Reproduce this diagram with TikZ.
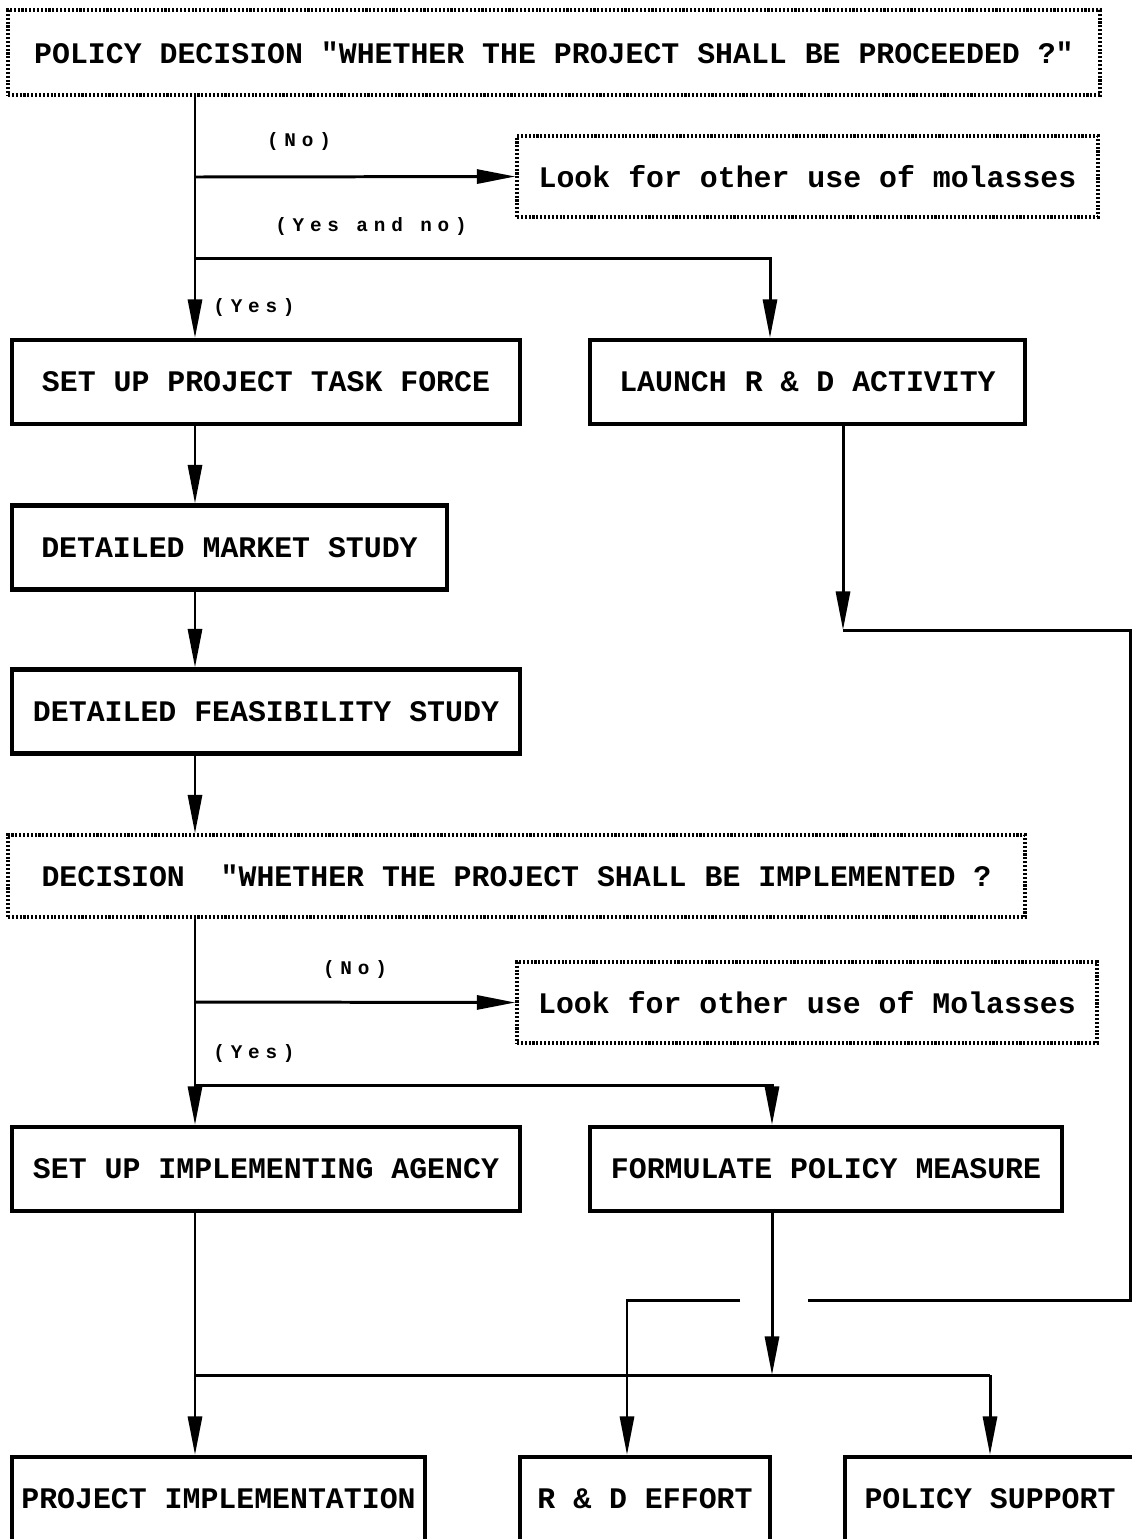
\documentclass[tikz,border=0pt]{standalone}
\usepackage{fontspec}
\setmonofont{Liberation Mono}
\newfontfamily\tagfont[LetterSpace=30]{Liberation Mono}
\usetikzlibrary{arrows.meta}
\tikzstyle{stage}=[rectangle,draw,line width=2.3pt,inner sep=0pt,font=\ttfamily\bfseries\fontsize{17}{20}\selectfont]
\tikzstyle{query}=[stage,dash pattern=on 1.2pt off 1pt,line width=1.8pt]
\tikzstyle{link}=[line width=1.7pt]
\tikzstyle{flow}=[link,-{Triangle[length=22pt,width=8pt]}]
\tikzstyle{tag}=[inner sep=0pt,font=\tagfont\bfseries\fontsize{11}{13}\selectfont]

\begin{document}
\begin{tikzpicture}[x=0.02cm,y=-0.02cm]
  \def\px{0.02cm}
  \useasboundingbox (0,0) rectangle (1132,1539);

  % decision boxes
  \node[query, minimum width=1092*\px, minimum height=85*\px] (top) at (554,52.5)
    {POLICY DECISION "WHETHER THE PROJECT SHALL BE PROCEEDED ?"};
  \node[query, minimum width=581*\px, minimum height=81*\px] (look1) at (807.5,176.5)
    {Look for other use of molasses};
  \node[query, minimum width=1017*\px, minimum height=82*\px] (decision) at (516.5,876)
    {DECISION~~"WHETHER THE PROJECT SHALL BE IMPLEMENTED ?};
  \node[query, minimum width=580*\px, minimum height=81*\px] (look2) at (807,1002.5)
    {Look for other use of Molasses};

  % action boxes
  \foreach \name/\x/\y/\w/\text in {
      task/266/382/508/SET UP PROJECT TASK FORCE,
      launch/807.5/382/435/LAUNCH R \& D ACTIVITY,
      market/229.5/547.5/435/DETAILED MARKET STUDY,
      feas/266/711.5/508/DETAILED FEASIBILITY STUDY,
      agency/266/1169/508/SET UP IMPLEMENTING AGENCY,
      formulate/826/1169/472/FORMULATE POLICY MEASURE,
      impl/218.5/1499/413/PROJECT IMPLEMENTATION,
      rnd/645/1499/250/R \& D EFFORT,
      support/990/1499/290/POLICY SUPPORT} {
    \node[stage, minimum width=\w*\px, minimum height=84*\px] (\name) at (\x,\y) {\text};
  }

  \node[tag] (no tag 1) at (299,141) {(No)};
  \node[tag] (yes no tag) at (371,226) {(Yes and no)};
  \node[tag] (yes tag 1) at (254,307) {(Yes)};
  \node[tag] (no tag 2) at (355,969) {(No)};
  \node[tag] (yes tag 2) at (254,1053) {(Yes)};

  \coordinate (no1) at (195,177);
  \coordinate (yn1) at (195,258);
  \coordinate (rd1) at (770,258);
  \coordinate (no2) at (195,1002);
  \coordinate (yes2) at (195,1085);
  \coordinate (pm) at (772,1085);
  \coordinate (rdturn) at (843,630);
  \coordinate (rdedge) at (1130,630);
  \coordinate (rdlow) at (1130,1300);
  \coordinate (hopR) at (808,1300);
  \coordinate (hopL) at (740,1300);
  \coordinate (rdin) at (627,1300);
  \coordinate (bus) at (772,1375);
  \coordinate (busL) at (195,1375);
  \coordinate (busR) at (990,1375);

  % first decision
  \draw[flow] (top.south -| no1) -- (task.north -| no1);
  \draw[flow] (no1) -- (look1.west);
  \draw[flow] (yn1) -- (rd1) -- (launch.north -| rd1);
  \foreach \a/\b in {task/market, market/feas, feas/decision} {
    \draw[flow] (\a.south -| no1) -- (\b.north -| no1);
  }

  % second decision
  \draw[flow] (decision.south -| no2) -- (agency.north -| no2);
  \draw[flow] (no2) -- (look2.west);
  \draw[flow] (yes2) -- (pm) -- (formulate.north -| pm);

  % R & D loop
  \draw[flow] (launch.south -| rdturn) -- (rdturn);
  \draw[link] (rdturn) -- (rdedge) -- (rdlow) -- (hopR);
  \draw[flow] (hopL) -- (rdin) -- (rnd.north -| rdin);

  % outcomes
  \draw[flow] (formulate.south -| bus) -- (bus);
  \draw[flow] (agency.south -| no2) -- (impl.north -| no2);
  \draw[link] (busL) -- (busR);
  \draw[flow] (busR) -- (support.north -| busR);
\end{tikzpicture}
\end{document}
